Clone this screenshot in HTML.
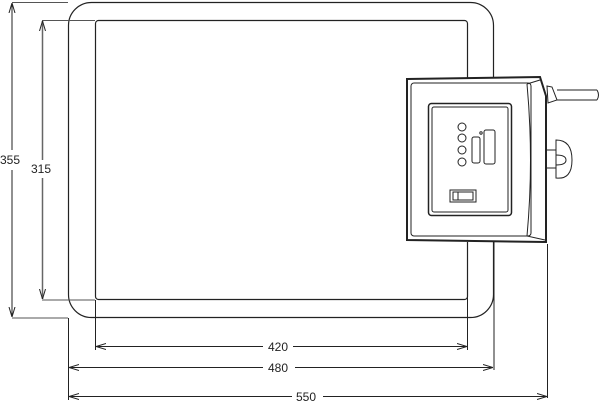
<!DOCTYPE html>
<html><head><style>body{margin:0;background:#fff}svg{display:block}text{font-family:"Liberation Sans",sans-serif;font-size:12px;fill:#222}</style></head>
<body>
<svg width="600" height="405" viewBox="0 0 600 405" xmlns="http://www.w3.org/2000/svg" fill="none" stroke="#222" stroke-width="1">
<defs><marker id="a" markerWidth="10" markerHeight="8" refX="10" refY="4" orient="auto-start-reverse" markerUnits="userSpaceOnUse"><path d="M0,1 L10,4 L0,7" stroke="#222" fill="none"/></marker></defs>
<!-- outer frame -->
<rect x="68.5" y="2.5" width="425" height="315" rx="23" stroke-width="1.2"/>
<rect x="95.5" y="20.5" width="372" height="279" rx="3" stroke-width="1.2"/>
<!-- left dims -->
<line x1="12" y1="2.5" x2="68" y2="2.5" stroke="#555"/>
<line x1="42" y1="20.5" x2="95" y2="20.5" stroke="#555"/>
<line x1="12" y1="318" x2="68" y2="318" stroke="#555"/>
<line x1="42" y1="300" x2="95" y2="300" stroke="#555"/>
<line x1="12" y1="3" x2="12" y2="150" marker-start="url(#a)"/>
<line x1="12" y1="170" x2="12" y2="317" marker-end="url(#a)"/>
<line x1="42.5" y1="21" x2="42.5" y2="160" stroke="#666" stroke-width="1.5" marker-start="url(#a)"/>
<line x1="42.5" y1="178" x2="42.5" y2="299" stroke="#666" stroke-width="1.5" marker-end="url(#a)"/>
<text x="0" y="164" stroke="none">355</text>
<text x="31" y="173" stroke="none">315</text>
<!-- bottom extension lines -->
<line x1="68.5" y1="318" x2="68.5" y2="400"/>
<line x1="95.5" y1="300" x2="95.5" y2="350"/>
<line x1="467.5" y1="242" x2="467.5" y2="350"/>
<line x1="494" y1="242" x2="494" y2="370"/>
<line x1="547.5" y1="244" x2="547.5" y2="398"/>
<!-- bottom dims -->
<line x1="96" y1="346.5" x2="263" y2="346.5" marker-start="url(#a)"/>
<line x1="293" y1="346.5" x2="467" y2="346.5" marker-end="url(#a)"/>
<text x="268" y="351" stroke="none">420</text>
<line x1="69" y1="367.5" x2="263" y2="367.5" marker-start="url(#a)"/>
<line x1="295" y1="367.5" x2="493" y2="367.5" marker-end="url(#a)"/>
<text x="268" y="372" stroke="none">480</text>
<line x1="69" y1="396.5" x2="292" y2="396.5" marker-start="url(#a)"/>
<line x1="323" y1="396.5" x2="547" y2="396.5" marker-end="url(#a)"/>
<text x="296" y="401" stroke="none">550</text>
<!-- control box -->
<rect x="407" y="79" width="139" height="163" fill="#fff" stroke="none"/>
<path d="M407,79 L540,77 L546,96 L546,242 L407,240 Z" stroke-width="2" fill="#fff"/>
<rect x="411" y="83" width="120" height="153" rx="3"/>
<path d="M527,84 L540,80 M527,84 Q534,160 527,236 L545,240"/>
<rect x="428.5" y="103.5" width="83" height="112" rx="3" stroke-width="1.5"/>
<rect x="432" y="107" width="76" height="105" rx="2"/>
<circle cx="462" cy="127" r="4"/><circle cx="462" cy="138" r="4"/><circle cx="462" cy="150" r="4"/><circle cx="462" cy="162" r="4"/>
<rect x="472" y="137" width="8" height="26" rx="2"/>
<rect x="484" y="130" width="11" height="34" rx="2"/>
<circle cx="481" cy="133" r="1.2"/>
<rect x="450" y="190" width="26" height="12"/><rect x="453" y="192" width="20" height="8"/><line x1="458" y1="192" x2="458" y2="200"/>
<!-- cable -->
<path d="M547,86 L552,87 L557,100 L548,103 Z"/>
<path d="M557,90 L597,90 M557,100 L597,100 M597,90 Q600,95 597,100"/>
<!-- knob -->
<path d="M547,150 L556,150 L556,168 L547,168"/>
<path d="M556,140 Q572,140 572,160 Q572,180 556,178 Z" fill="#fff"/>
<path d="M556,155 Q566,155 566,160 M556,165 Q566,165 566,160"/>
</svg>
</body></html>
